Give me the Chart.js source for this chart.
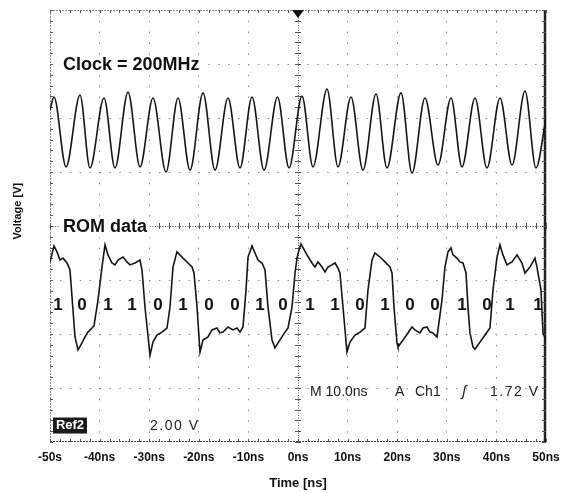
<!DOCTYPE html>
<html>
<head>
<meta charset="utf-8">
<script src="https://cdn.jsdelivr.net/npm/chart.js@4.4.0/dist/chart.umd.min.js"></script>
<style>
html, body { margin: 0; padding: 0; background: #ffffff; }
canvas { display: block; }
</style>
</head>
<body>
<canvas id="graficaOsciloscopio" width="568" height="493"></canvas>
<script>
// tick labels on the time axis (the first one really reads "-50s" in the original)
const tickLabels = ['-50s', '-40ns', '-30ns', '-20ns', '-10ns', '0ns', '10ns', '20ns', '30ns', '40ns', '50ns'];

// clock trace: peaks and troughs (ns, V)
const clockTime = [-50.00, -49.19, -46.77, -43.95, -41.94, -39.11, -36.90, -34.27, -31.85, -29.23,
    -26.61, -24.19, -21.77, -19.15, -16.73, -14.11, -11.69, -9.27, -6.85, -4.13,
    -1.81, 0.81, 3.02, 5.85, 8.06, 10.69, 13.10, 15.73, 17.94, 20.77,
    22.98, 25.60, 28.23, 30.85, 33.06, 35.69, 38.10, 40.73, 43.15, 45.77,
    47.98, 50.00];
const clockVolt = [4.30, 4.78, 2.19, 4.85, 2.15, 4.74, 2.15, 4.96, 2.19, 4.74,
    2.00, 4.74, 2.07, 4.93, 2.07, 4.74, 2.15, 4.78, 2.07, 4.78,
    2.15, 4.81, 2.19, 5.07, 2.19, 4.78, 2.07, 4.89, 2.15, 4.93,
    1.96, 4.74, 2.26, 4.74, 2.19, 4.74, 2.15, 4.74, 2.26, 5.00,
    2.15, 4.00];

// ROM data trace (ns, V)
const romTime = [-50.00, -49.19, -48.59, -47.98, -47.38, -46.57, -45.97, -44.96, -44.35, -43.55,
    -42.94, -42.34, -41.53, -41.13, -40.32, -39.52, -38.91, -38.31, -37.50, -36.90,
    -36.29, -35.28, -34.48, -33.87, -32.86, -31.86, -31.45, -30.85, -29.84, -29.24,
    -28.43, -27.42, -26.41, -25.81, -25.20, -24.40, -23.19, -22.18, -21.37, -20.97,
    -20.36, -19.76, -19.15, -18.15, -17.34, -16.33, -15.73, -15.12, -14.11, -13.11,
    -12.30, -11.70, -11.09, -10.48, -10.08, -9.27, -8.67, -8.07, -7.26, -6.65,
    -6.05, -5.24, -4.64, -3.63, -2.62, -2.02, -1.21, -0.60, -0.20, 0.20,
    0.60, 1.81, 2.82, 3.42, 4.03, 4.84, 5.44, 6.04, 6.85, 7.46,
    8.06, 8.46, 9.07, 9.87, 10.48, 11.49, 12.50, 13.50, 14.11, 14.92,
    15.52, 16.53, 17.54, 18.54, 18.95, 19.35, 19.96, 20.16, 21.17, 22.17,
    22.98, 23.58, 24.59, 25.20, 26.00, 26.61, 27.21, 28.02, 28.22, 29.03,
    29.63, 30.24, 30.84, 31.24, 32.05, 32.66, 33.26, 33.87, 34.27, 34.67,
    35.28, 35.68, 36.69, 37.70, 38.70, 39.31, 40.12, 40.72, 41.32, 42.13,
    43.14, 44.15, 45.16, 45.76, 46.77, 47.78, 48.18, 48.99, 49.39, 50.00];
const romVolt = [-1.33, -0.74, -0.96, -1.26, -1.19, -1.37, -1.63, -4.11, -4.59, -4.33,
    -4.11, -3.93, -3.78, -3.70, -2.74, -1.52, -0.70, -1.07, -1.37, -1.44,
    -1.26, -1.15, -1.33, -1.44, -1.37, -1.26, -1.63, -3.00, -4.78, -4.30,
    -4.04, -3.93, -3.78, -3.00, -1.52, -0.96, -1.19, -1.37, -1.52, -1.74,
    -3.00, -4.67, -4.22, -4.11, -3.85, -3.78, -3.96, -3.93, -3.74, -3.85,
    -3.78, -3.93, -3.74, -2.37, -1.15, -0.74, -1.00, -1.26, -1.37, -1.63,
    -3.00, -4.22, -4.52, -4.22, -3.93, -3.78, -3.00, -1.74, -1.19, -0.89,
    -0.67, -1.07, -1.37, -1.52, -1.33, -1.52, -1.70, -1.52, -1.44, -1.37,
    -1.56, -1.74, -3.00, -4.67, -4.30, -4.04, -3.93, -3.78, -2.37, -1.26,
    -1.00, -1.15, -1.33, -1.52, -1.74, -3.00, -4.33, -4.48, -4.22, -3.96,
    -3.74, -3.85, -3.96, -3.78, -3.74, -3.93, -3.96, -4.11, -3.85, -2.74,
    -1.52, -0.96, -0.81, -1.07, -1.19, -1.33, -1.37, -1.74, -3.00, -3.96,
    -4.48, -4.56, -4.30, -4.04, -3.78, -2.37, -1.15, -0.70, -1.07, -1.44,
    -1.33, -1.07, -1.37, -1.74, -1.52, -1.19, -1.52, -2.37, -3.96, -4.22];

// decoded bits written under the ROM trace
const bits = ['1', '0', '1', '1', '0', '1', '0', '0', '1', '0', '1', '1', '0', '1', '0', '0', '1', '0', '1', '1'];
const bitTime = [-48.39, -43.55, -38.31, -33.47, -28.23, -23.19, -17.94, -12.70, -7.66, -3.02,
    2.42, 7.46, 12.50, 17.54, 22.58, 27.62, 33.06, 38.10, 42.74, 48.38];

const fuente = "'Liberation Sans', Arial, sans-serif";
Chart.defaults.font.family = fuente;
Chart.defaults.color = '#111111';

function puntos(tiempos, voltios) {
    return tiempos.map((t, i) => ({ x: t, y: voltios[i] }));
}

function texto(ctx, cadena, px, py, font, color, align, fondo) {
    ctx.font = font;
    ctx.textAlign = align || 'left';
    ctx.textBaseline = 'middle';
    if (fondo) {
        const w = ctx.measureText(cadena).width;
        ctx.fillStyle = '#ffffff';
        ctx.fillRect(px - 3, py - 10, w + 6, 20);
    }
    ctx.fillStyle = color;
    ctx.fillText(cadena, px, py);
}

// scope frame, minor ticks and on-screen readouts
const decoradoScope = {
    id: 'decoradoScope',
    beforeDatasetsDraw(grafica) {
        const { ctx, chartArea: a, scales: { x, y } } = grafica;
        const x0 = x.getPixelForValue(0);
        const y0 = y.getPixelForValue(0);
        ctx.save();
        ctx.lineWidth = 1;

        ctx.strokeStyle = '#8a8a8a';
        ctx.setLineDash([2, 1]);
        ctx.beginPath();
        ctx.moveTo(a.left, a.top + 0.5); ctx.lineTo(a.right, a.top + 0.5);
        ctx.moveTo(a.left + 0.5, a.top); ctx.lineTo(a.left + 0.5, a.bottom);
        ctx.stroke();
        ctx.strokeStyle = '#444444';
        ctx.beginPath();
        ctx.moveTo(a.left, a.bottom - 0.5); ctx.lineTo(a.right, a.bottom - 0.5);
        ctx.stroke();
        ctx.setLineDash([]);
        ctx.strokeStyle = '#222222';
        ctx.lineWidth = 2.5;
        ctx.beginPath();
        ctx.moveTo(a.right - 1, a.top); ctx.lineTo(a.right - 1, a.bottom);
        ctx.stroke();

        ctx.lineWidth = 1;
        ctx.strokeStyle = '#555555';
        ctx.beginPath();
        for (let i = -25; i <= 25; i++) {
            const px = Math.round(x.getPixelForValue(i * 2)) + 0.5;
            ctx.moveTo(px, a.top); ctx.lineTo(px, a.top + 3);
            ctx.moveTo(px, a.bottom); ctx.lineTo(px, a.bottom - 3);
            ctx.moveTo(px, y0 - 3); ctx.lineTo(px, y0 + 3);
        }
        for (let i = -20; i <= 20; i++) {
            const py = Math.round(y.getPixelForValue(i * 0.4)) + 0.5;
            ctx.moveTo(a.left, py); ctx.lineTo(a.left + 3, py);
            ctx.moveTo(a.right, py); ctx.lineTo(a.right - 4, py);
            ctx.moveTo(x0 - 3, py); ctx.lineTo(x0 + 3, py);
        }
        ctx.stroke();

        // trigger position marker
        ctx.fillStyle = '#111111';
        ctx.beginPath();
        ctx.moveTo(x0 - 6, a.top);
        ctx.lineTo(x0 + 6, a.top);
        ctx.lineTo(x0, a.top + 8);
        ctx.closePath();
        ctx.fill();
        ctx.restore();
    },
    afterDatasetsDraw(grafica) {
        const { ctx, chartArea: a, scales: { x, y } } = grafica;
        ctx.save();
        texto(ctx, 'Clock = 200MHz', x.getPixelForValue(-47.38), y.getPixelForValue(5.96), 'bold 18px ' + fuente, '#111111', 'left', true);
        texto(ctx, 'ROM data', x.getPixelForValue(-47.38), y.getPixelForValue(-0.05), 'bold 18px ' + fuente, '#111111', 'left', true);

        bits.forEach((b, i) => {
            texto(ctx, b, x.getPixelForValue(bitTime[i]), y.getPixelForValue(-2.93), 'bold 17px ' + fuente, '#111111', 'center', false);
        });

        const yLectura = y.getPixelForValue(-6.15);
        const f14 = '14px ' + fuente;
        texto(ctx, 'M 10.0ns', x.getPixelForValue(2.42), yLectura, f14, '#222222', 'left', false);
        texto(ctx, 'A', x.getPixelForValue(19.56), yLectura, f14, '#222222', 'left', false);
        texto(ctx, 'Ch1', x.getPixelForValue(23.59), yLectura, f14, '#222222', 'left', false);
        texto(ctx, 'ʃ', x.getPixelForValue(33.06), yLectura, 'italic 15px ' + fuente, '#222222', 'left', false);
        ctx.letterSpacing = '1.5px';
        texto(ctx, '1.72 V', x.getPixelForValue(38.71), yLectura, f14, '#222222', 'left', false);
        texto(ctx, '2.00 V', x.getPixelForValue(-29.84), y.getPixelForValue(-7.41), f14, '#222222', 'left', false);
        ctx.letterSpacing = '0px';

        // Ref2 reference marker box
        const rx = x.getPixelForValue(-49.40);
        const ry = y.getPixelForValue(-7.39);
        ctx.fillStyle = '#1a1a1a';
        ctx.fillRect(rx, ry - 8, 34, 16);
        texto(ctx, 'Ref2', rx + 17, ry, 'bold 13px ' + fuente, '#ffffff', 'center', false);

        // vertical axis title, sitting a little above the middle as in the original
        ctx.translate(a.left - 32, y.getPixelForValue(0.55));
        ctx.rotate(-Math.PI / 2);
        texto(ctx, 'Voltage [V]', 0, 0, 'bold 11px ' + fuente, '#111111', 'center', false);
        ctx.restore();
    }
};

const contextoScope = document.getElementById('graficaOsciloscopio');
new Chart(contextoScope, {
    type: 'line',
    data: {
        datasets: [{
            label: 'Clock',
            data: puntos(clockTime, clockVolt),
            borderColor: '#151515',
            borderWidth: 1.6,
            pointRadius: 0,
            cubicInterpolationMode: 'monotone'
        },
        {
            label: 'ROM data',
            data: puntos(romTime, romVolt),
            borderColor: '#151515',
            borderWidth: 1.6,
            pointRadius: 0,
            tension: 0
        }]
    },
    options: {
        responsive: false,
        animation: false,
        layout: {
            padding: { top: 10, right: 22, left: 0, bottom: 0 }
        },
        plugins: {
            legend: { display: false },
            tooltip: { enabled: false }
        },
        scales: {
            x: {
                type: 'linear',
                min: -50,
                max: 50,
                afterFit: (escala) => { escala.height = 51; },
                ticks: {
                    stepSize: 10,
                    padding: 8,
                    color: '#111111',
                    font: { size: 12, weight: 'bold' },
                    callback: (valor, indice) => tickLabels[indice]
                },
                grid: {
                    drawTicks: false,
                    color: (c) => {
                        if (c.tick && Math.abs(c.tick.value) === 50) return 'rgba(0,0,0,0)';
                        return (c.tick && c.tick.value === 0) ? '#555555' : '#8c8c8c';
                    }
                },
                border: {
                    display: false,
                    dash: (c) => (c.tick && c.tick.value === 0) ? [1, 1.5] : [1.5, 9.3]
                },
                title: {
                    display: true,
                    text: 'Time [ns]',
                    color: '#111111',
                    font: { size: 13, weight: 'bold' },
                    padding: { top: 0, bottom: 2 }
                }
            },
            y: {
                type: 'linear',
                min: -8,
                max: 8,
                afterFit: (escala) => { escala.width = 50; },
                ticks: {
                    stepSize: 2,
                    display: false
                },
                grid: {
                    drawTicks: false,
                    color: (c) => {
                        if (c.tick && Math.abs(c.tick.value) === 8) return 'rgba(0,0,0,0)';
                        return (c.tick && c.tick.value === 0) ? '#555555' : '#8c8c8c';
                    }
                },
                border: {
                    display: false,
                    dash: (c) => (c.tick && c.tick.value === 0) ? [1, 1.5] : [1.5, 8.4]
                }
            }
        }
    },
    plugins: [decoradoScope]
});
</script>
</body>
</html>
